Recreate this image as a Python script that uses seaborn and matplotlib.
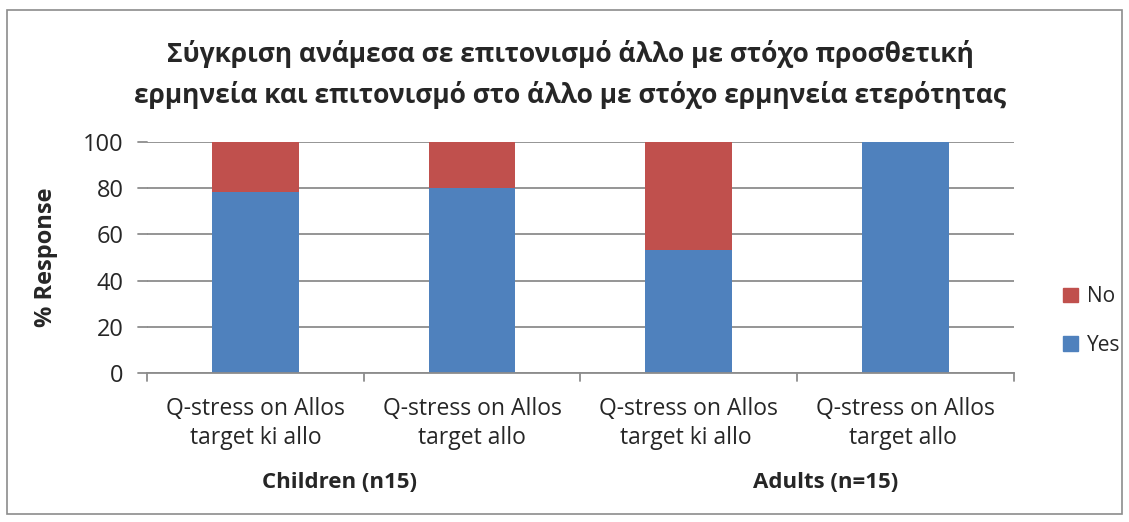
import matplotlib
matplotlib.use("Agg")
import matplotlib.pyplot as plt
from matplotlib.patches import Rectangle
import seaborn as sns
import pandas as pd

categories = ["Q-stress on Allos\ntarget ki allo", "Q-stress on Allos\ntarget allo",
              "Q-stress on Allos\ntarget ki allo ", "Q-stress on Allos\ntarget allo "]
yes_values = [78.3, 80.0, 53.3, 100.0]
no_values = [21.7, 20.0, 46.7, 0.0]
groups = ["Children (n15)", "Adults (n=15)"]
title = ("Σύγκριση ανάμεσα σε επιτονισμό άλλο με στόχο προσθετική\n"
         "ερμηνεία και επιτονισμό στο άλλο με στόχο ερμηνεία ετερότητας")

BLUE = "#4F81BD"
RED = "#C0504D"
GRID = "#8C8C8C"

df = pd.DataFrame({
    "category": categories,
    "Yes": yes_values,
    "No": no_values,
})
df["total"] = df["Yes"] + df["No"]

sns.set_theme(style="white")
plt.rcParams["font.family"] = ["Open Sans", "DejaVu Sans"]

fig = plt.figure(figsize=(11.29, 5.22), dpi=100)
ax = fig.add_axes([0.1302, 0.2854, 0.7679, 0.4426])

sns.barplot(data=df, x="category", y="total", color=RED, width=0.4,
            saturation=1, ax=ax, zorder=3)
sns.barplot(data=df, x="category", y="Yes", color=BLUE, width=0.4,
            saturation=1, ax=ax, zorder=4)
for p in ax.patches:
    p.set_edgecolor("none")

ax.set_xlim(-0.5, len(categories) - 0.5)
ax.set_ylim(0, 100)
ax.set_yticks(range(0, 101, 20))
ax.yaxis.grid(True, color=GRID, linewidth=1.3, zorder=0)
ax.set_axisbelow(True)
for s in ["top", "right", "left"]:
    ax.spines[s].set_visible(False)
ax.spines["bottom"].set_color(GRID)
ax.spines["bottom"].set_linewidth(1.3)
ax.spines["bottom"].set_zorder(5)

# y ticks: short marks to the left of the plot area
ax.tick_params(axis="y", which="major", length=0, labelsize=17, pad=17)
for yv in range(0, 101, 20):
    ax.plot([-0.5 - 0.042, -0.5], [yv, yv], color=GRID, lw=1.3,
            clip_on=False, zorder=5)

# x: category labels at centres, tick marks at category boundaries
ax.set_xticks(range(len(categories)))
ax.set_xticklabels(categories, fontsize=16.5, linespacing=1.3)
ax.tick_params(axis="x", length=0, pad=17)
for xb in [-0.5, 0.5, 1.5, 2.5, 3.5]:
    ax.plot([xb, xb], [0, -3.5], color=GRID, lw=1.3, clip_on=False, zorder=5)

ax.set_xlabel("")
ax.set_ylabel("% Response", fontsize=17, fontweight="bold", labelpad=18)

# group labels below the category labels
ax.text(0.39, -47.5, groups[0], ha="center", va="center", fontsize=16,
        fontweight="bold", transform=ax.transData)
ax.text(2.63, -47.5, groups[1], ha="center", va="center", fontsize=16,
        fontweight="bold", transform=ax.transData)

fig.text(0.505, 0.857, title, ha="center", va="center", fontsize=19,
         fontweight="bold", linespacing=1.6)

# legend
handles = [Rectangle((0, 0), 1, 1, color=RED), Rectangle((0, 0), 1, 1, color=BLUE)]
leg = fig.legend(handles, ["No", "Yes"], loc="center left",
                 bbox_to_anchor=(0.925, 0.385), frameon=False, fontsize=15,
                 handlelength=0.7, handleheight=0.7, handletextpad=0.45,
                 labelspacing=1.3)

# chart border
fig.patches.append(Rectangle((0.0062, 0.0153), 0.9876, 0.966, transform=fig.transFigure,
                             fill=False, edgecolor=GRID, linewidth=1.2))

fig.savefig("out.png", dpi=100, facecolor="white")
